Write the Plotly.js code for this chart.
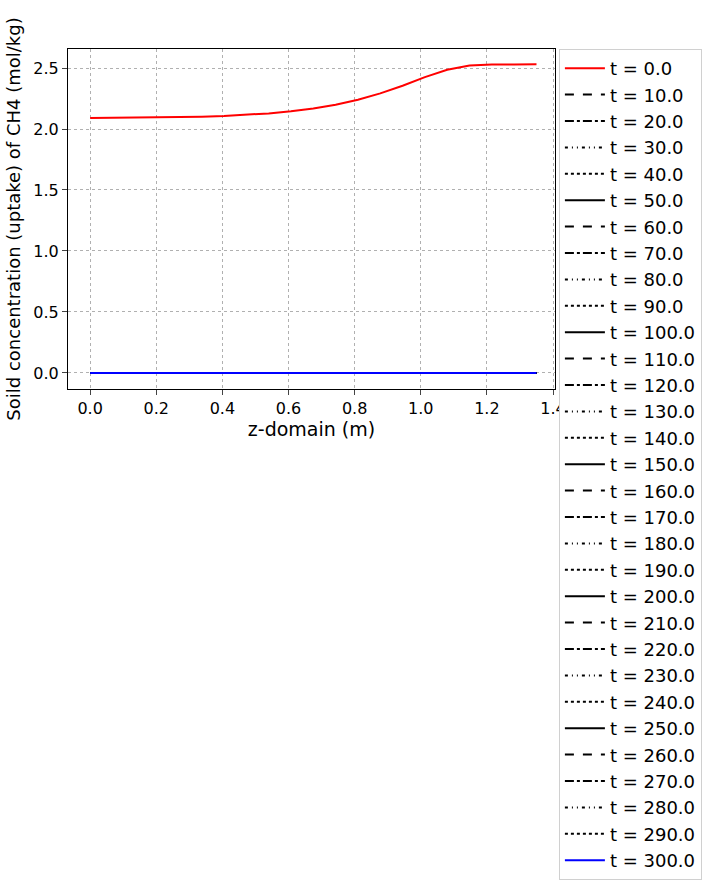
<html><head><script src="https://cdn.plot.ly/plotly-3.0.1.min.js"></script></head><body style="margin:0">
<div id="c" style="width:713px;height:892px"></div>
<script>
const z = [0,0.0675,0.135,0.2025,0.27,0.3375,0.405,0.4725,0.54,0.6075,0.675,0.7425,0.81,0.8775,0.945,1.0125,1.08,1.1475,1.215,1.2825,1.35];
const q0 = [2.090,2.091,2.092,2.094,2.097,2.101,2.107,2.116,2.128,2.145,2.168,2.199,2.240,2.292,2.355,2.425,2.485,2.520,2.528,2.529,2.530];
const qZero = z.map(()=>0);
const times = [];
for (let t=0;t<=300;t+=10) times.push(t);
const dashes = ['solid','dash','dashdot','3px,4px,1px,4px,1px,4px','dot'];
const traces = times.map((t,i)=>({
  x:z, y: i===0?q0:qZero, mode:'lines', name:'t = '+t.toFixed(1),
  line:{color: i===0?'red':(i===times.length-1?'blue':'black'), width:2, dash: (i===0||i===times.length-1)?'solid':dashes[i%5]}
}));
Plotly.newPlot('c',traces,{
  width:713,height:892,margin:{l:68,r:158,t:10,b:10},
  font:{family:'DejaVu Sans',size:16,color:'black'},
  plot_bgcolor:'white',paper_bgcolor:'white',
  xaxis:{range:[-0.067,1.406],tickvals:[0,0.2,0.4,0.6,0.8,1.0,1.2,1.4],ticktext:['0.0','0.2','0.4','0.6','0.8','1.0','1.2','1.4'],
    showgrid:true,gridcolor:'#b0b0b0',griddash:'dot',zeroline:false,showline:true,mirror:true,linecolor:'black',ticks:'outside',ticklen:5,
    title:{text:'z-domain (m)',font:{size:19},standoff:4}},
  yaxis:{domain:[0.5654,0.9553],range:[-0.131,2.656],tickvals:[0,0.5,1,1.5,2,2.5],ticktext:['0.0','0.5','1.0','1.5','2.0','2.5'],
    showgrid:true,gridcolor:'#b0b0b0',griddash:'dot',zeroline:false,showline:true,mirror:true,linecolor:'black',ticks:'outside',ticklen:5,
    title:{text:'Soild concentration (uptake) of CH4 (mol/kg)',font:{size:18},standoff:8}},
  showlegend:true,
  legend:{x:1.008,xanchor:'left',y:0.9553,yanchor:'top',font:{size:18},bordercolor:'#d0d0d0',borderwidth:1,tracegroupgap:0,itemwidth:40}
},{displayModeBar:false});
</script></body></html>
